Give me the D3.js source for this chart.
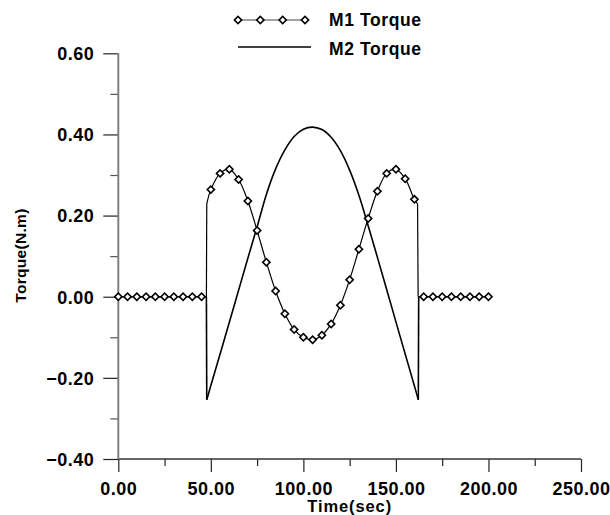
<!DOCTYPE html>
<html><head><meta charset="utf-8">
<script src="https://cdn.jsdelivr.net/npm/d3@7"></script>
<style>
body{margin:0;background:#fff;}
svg{display:block;font-family:"Liberation Sans",Arial,sans-serif;font-weight:bold;}
</style></head>
<body><svg id="chart" width="610" height="515"></svg>
<script>
// ---- data ----
const m1Time  = [0,5,10,15,20,25,30,35,40,45,47.6,47.8,50,55,60,65,70,75,80,85,90,95,100,105,110,115,120,125,130,135,140,145,150,155,160,161.7,162.0,165,170,175,180,185,190,195,200];
const m1Value = [0,0,0,0,0,0,0,0,0,0,0,0.229,0.264,0.304,0.314,0.289,0.236,0.163,0.085,0.014,-0.042,-0.081,-0.100,-0.106,-0.095,-0.067,-0.021,0.042,0.117,0.193,0.260,0.304,0.314,0.291,0.240,0.229,0,0,0,0,0,0,0,0,0];
const m2Time  = [0,10,20,30,40,47.6,47.8,50,55,60,65,70,75,80,85,90,95,100,105,110,115,120,125,130,135,140,145,150,155,160,162.1,162.3,170,180,190,200];
const m2Value = [0,0,0,0,0,0,-0.254,-0.219,-0.141,-0.063,0.016,0.095,0.172,0.252,0.315,0.362,0.395,0.413,0.418,0.412,0.393,0.360,0.312,0.250,0.175,0.097,0.018,-0.062,-0.141,-0.220,-0.254,0,0,0,0,0];
const m1Markers = m1Time.filter(t => t % 5 === 0);
const xMajor = [0,50,100,150,200,250];
const xMinor = [25,75,125,175,225];
const yMajor = [0.6,0.4,0.2,0,-0.2,-0.4];
const yMinor = [0.5,0.3,0.1,-0.1,-0.3];
const seriesNames = ["M1 Torque","M2 Torque"];
const xTitle = "Time(sec)";
const yTitle = "Torque(N.m)";

// ---- layout ----
const svg = d3.select("#chart");
const x = d3.scaleLinear().domain([0,250]).range([118.3,581]);
const y = d3.scaleLinear().domain([-0.4,0.6]).range([459,53.3]);
const fmt = d3.format(".2f");

// x axis
const gx = svg.append("g").attr("transform",`translate(0,${y(-0.4)})`);
gx.call(d3.axisBottom(x).tickValues(xMajor).tickSize(13).tickPadding(10.5).tickFormat(fmt));
const gxm = svg.append("g").attr("transform",`translate(0,${y(-0.4)})`);
gxm.call(d3.axisBottom(x).tickValues(xMinor).tickSize(7).tickFormat(""));
// y axis
const gy = svg.append("g").attr("transform",`translate(${x(0)},0)`);
gy.call(d3.axisLeft(y).tickValues(yMajor).tickSize(15).tickPadding(9).tickFormat(fmt));
const gym = svg.append("g").attr("transform",`translate(${x(0)},0)`);
gym.call(d3.axisLeft(y).tickValues(yMinor).tickSize(8).tickFormat(""));

[gx,gxm,gy,gym].forEach(g=>{
  g.select(".domain").remove();
  g.selectAll(".tick line").attr("stroke","#222").attr("stroke-width",1.2);
  g.selectAll(".tick text").attr("fill","#000").style("font-size","18px").style("font-weight","bold")
   .style("font-family",'"Liberation Sans",Arial,sans-serif').style("letter-spacing","0.5px");
});
gym.selectAll(".tick line").attr("stroke","#555");
gx.selectAll(".tick text").attr("dy","0.71em");
gy.selectAll(".tick text").attr("dy","0.35em");

// axis lines
svg.append("line").attr("x1",x(0)).attr("x2",x(250)).attr("y1",y(-0.4)).attr("y2",y(-0.4))
  .attr("stroke","#333").attr("stroke-width",1.3);
svg.append("line").attr("x1",x(0)).attr("x2",x(0)).attr("y1",y(0.6)).attr("y2",y(-0.4))
  .attr("stroke","#808080").attr("stroke-width",2);

// titles
svg.append("text").attr("x",(x(0)+x(250))/2).attr("y",512).attr("text-anchor","middle")
  .style("font-size","16.5px").style("letter-spacing","0.9px").text(xTitle);
svg.append("text").attr("transform",`translate(21,255.5) rotate(-90)`).attr("text-anchor","middle")
  .attr("dy","0.35em").style("font-size","15.5px").style("letter-spacing","0.3px").text(yTitle);

// ---- series ----
function drawSeries(times, values, width){
  const pts = times.map((t,i)=>[t,values[i]]);
  const runs=[], jumps=[];
  let cur=[pts[0]];
  for(let i=1;i<pts.length;i++){
    const a=pts[i-1], b=pts[i];
    if(Math.abs((b[1]-a[1])/(b[0]-a[0]))>0.5){ runs.push(cur); jumps.push([a,b]); cur=[b]; }
    else cur.push(b);
  }
  runs.push(cur);
  const smooth = d3.line().x(d=>x(d[0])).y(d=>y(d[1])).curve(d3.curveCatmullRom.alpha(0.5));
  const straight = d3.line().x(d=>x(d[0])).y(d=>y(d[1]));
  const g = svg.append("g").attr("fill","none").attr("stroke","#000").attr("stroke-width",width);
  runs.forEach(r=>g.append("path").attr("d",smooth(r)));
  jumps.forEach(j=>g.append("path").attr("d",straight(j)));
}
drawSeries(m2Time, m2Value, 1.6);
drawSeries(m1Time, m1Value, 1.2);

const diamond = d3.symbol().type(d3.symbolSquare).size(26);
svg.append("g").selectAll("path").data(m1Markers).join("path")
  .attr("d",diamond)
  .attr("transform",t=>`translate(${x(t)},${y(m1Value[m1Time.indexOf(t)])}) rotate(45)`)
  .attr("fill","#fff").attr("stroke","#000").attr("stroke-width",1.6);

// ---- legend ----
const leg = svg.append("g");
const legMarkX = [238,260.3,282.7,305];
leg.append("line").attr("x1",legMarkX[0]).attr("x2",legMarkX[3]).attr("y1",20).attr("y2",20)
  .attr("stroke","#444").attr("stroke-width",1);
leg.selectAll("path.mk").data(legMarkX).join("path").attr("class","mk").attr("d",diamond)
  .attr("transform",d=>`translate(${d},20) rotate(45)`).attr("fill","#fff").attr("stroke","#000").attr("stroke-width",1.6);
leg.append("line").attr("x1",238).attr("x2",311).attr("y1",47).attr("y2",47)
  .attr("stroke","#000").attr("stroke-width",1.5);
leg.selectAll("text").data(seriesNames).join("text")
  .attr("x",329).attr("y",(d,i)=>i===0?26:54.5)
  .style("font-size","17.5px").style("letter-spacing","0.6px").text(d=>d);
</script></body></html>
